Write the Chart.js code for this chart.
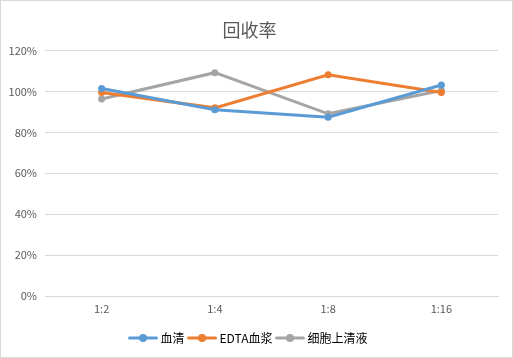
<!DOCTYPE html>
<html><head><meta charset="utf-8">
<script src="https://cdn.jsdelivr.net/npm/chart.js"></script>
<style>
html,body{margin:0;padding:0;background:#fff;}
#wrap{width:513px;height:358px;box-sizing:border-box;border:1px solid #D9D9D9;position:relative;}
canvas{display:block;}
</style></head>
<body><div id="wrap"><canvas id="c" width="511" height="356"></canvas></div>
<script>
const categories = ['1:2', '1:4', '1:8', '1:16'];
const serum = [101.5, 91.1, 87.4, 103.2];
const edtaPlasma = [99.5, 92.0, 108.2, 99.5];
const cellSupernatant = [96.3, 109.2, 89.1, 100.5];
const seriesNames = ['血清', 'EDTA血浆', '细胞上清液'];
const yTicks = [0, 20, 40, 60, 80, 100, 120];
const colors = ['#5B9BD5', '#ED7D31', '#A5A5A5'];
const FONT = '"Noto Sans CJK SC", "Liberation Sans", sans-serif';

function legendIcon(color) {
  const cv = document.createElement('canvas');
  cv.width = 30; cv.height = 10;
  const g = cv.getContext('2d');
  g.strokeStyle = color; g.lineWidth = 3; g.lineCap = 'round';
  g.beginPath(); g.moveTo(1.5, 5); g.lineTo(28.5, 5); g.stroke();
  g.fillStyle = color;
  g.beginPath(); g.arc(15, 5, 4, 0, Math.PI * 2); g.fill();
  return cv;
}
const icons = colors.map(legendIcon);

const ds = [serum, edtaPlasma, cellSupernatant].map((d, i) => ({
  label: seriesNames[i],
  data: d,
  borderColor: colors[i],
  backgroundColor: colors[i],
  borderWidth: 3,
  pointRadius: 3.5,
  pointHoverRadius: 3.5,
  pointBorderWidth: 0,
  tension: 0,
  fill: false
}));

new Chart(document.getElementById('c'), {
  type: 'line',
  data: { labels: categories, datasets: ds },
  options: {
    responsive: false,
    animation: false,
    devicePixelRatio: 1,
    layout: { padding: { left: 0, right: 14, top: 0, bottom: 3 } },
    plugins: {
      tooltip: { enabled: false },
      title: {
        display: true,
        text: '回收率',
        color: '#595959',
        font: { family: FONT, size: 18, weight: 'normal' },
        padding: { top: 18, bottom: 10 }
      },
      legend: {
        position: 'bottom',
        labels: {
          color: '#000',
          font: { family: FONT, size: 12 },
          usePointStyle: true,
          pointStyleWidth: 23,
          padding: 6,
          generateLabels: (chart) => chart.data.datasets.map((d, i) => ({
            text: d.label,
            pointStyle: icons[i],
            fillStyle: colors[i],
            strokeStyle: colors[i],
            lineWidth: 0,
            datasetIndex: i,
            hidden: false
          }))
        }
      }
    },
    scales: {
      x: {
        offset: true,
        grid: { display: false, tickLength: 0 },
        border: { display: true, color: '#D9D9D9' },
        afterFit: (s) => { s.height = 30; },
        ticks: { color: '#595959', font: { family: FONT, size: 11 }, padding: 6 }
      },
      y: {
        min: 0, max: 120,
        afterBuildTicks: (s) => { s.ticks = yTicks.map(v => ({ value: v })); },
        afterFit: (s) => { s.width = 44; },
        grid: { color: '#D9D9D9', drawTicks: false },
        border: { display: false },
        ticks: { color: '#595959', font: { family: FONT, size: 11 }, padding: 8, callback: v => v + '%' }
      }
    }
  }
});
</script>
</body></html>
